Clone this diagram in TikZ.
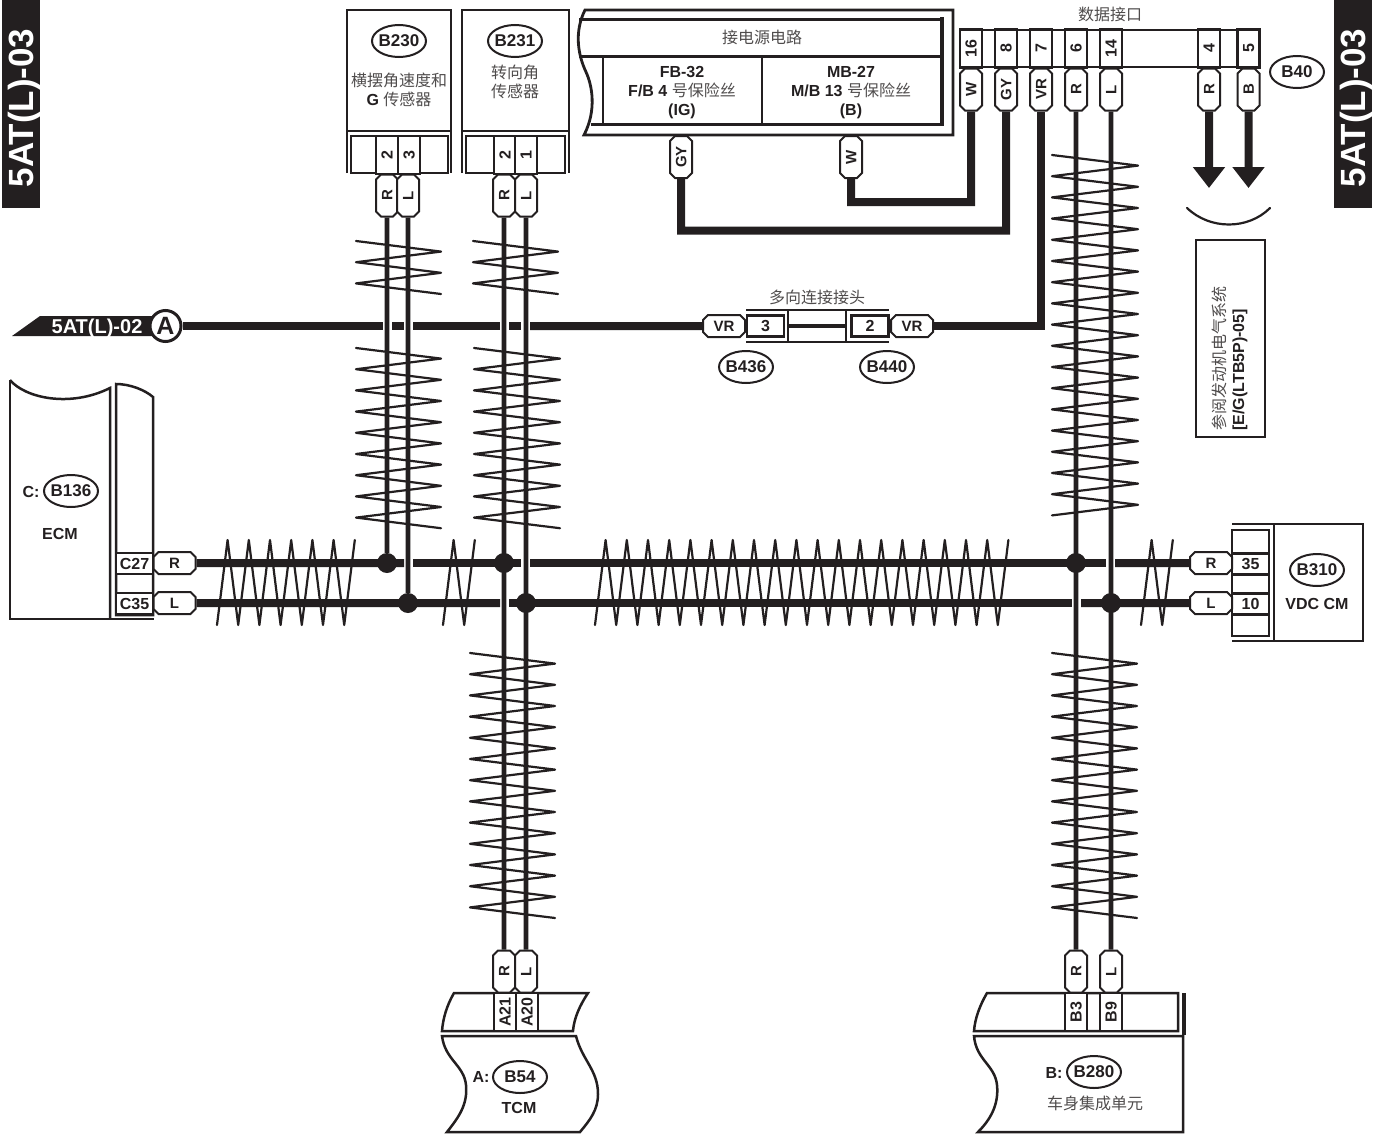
\documentclass[tikz,border=0pt]{standalone}
\usepackage{fontspec}
\setmainfont{Liberation Sans}
\newfontfamily\cjk{Noto Sans CJK SC}
\usetikzlibrary{arrows.meta,shapes.geometric,shapes.misc}
\definecolor{ink}{HTML}{231F20}
\newcommand{\cn}[1]{{\cjk\mdseries\color{ink!80} #1}}
\newcommand{\vtwist}[4]{\draw[twist] (#1, #3) \foreach \i [evaluate=\i as \yy using #3+\i*10.6, evaluate=\i as \xx using {isodd(\i) ? #2 : #1}] in {1,...,#4} { -- (\xx, \yy) };}
\newcommand{\htwist}[2]{\draw[twist] (#1, 625) \foreach \i [evaluate=\i as \xx using #1+\i*10.6, evaluate=\i as \yy using {isodd(\i) ? 540 : 625}] in {1,...,#2} { -- (\xx, \yy) };}
\tikzset{
  frame/.style={draw=ink, line width=2.5pt},
  heavy/.style={draw=ink, line width=3.5pt},
  twist/.style={draw=ink, line width=2.2pt, line cap=round, line join=round},
  wire/.style={draw=ink, line width=4.6pt},
  bus/.style={draw=ink, line width=8pt},
  label/.style={text=ink, inner sep=0pt, align=center, font=\bfseries\fontsize{16}{19}\selectfont},
  tag/.style={label, ellipse, draw=ink, line width=2pt, fill=white, inner xsep=-1.5pt, text depth=0pt, minimum width=54pt, minimum height=32pt, font=\bfseries\fontsize{17}{19}\selectfont},
  pinh/.style={label, chamfered rectangle, chamfered rectangle xsep=2.5pt, chamfered rectangle ysep=2.5pt, draw=ink, line width=2pt, fill=white, text width=37pt, text height=13.9pt, text depth=3.1pt, font=\bfseries\fontsize{15}{17}\selectfont},
  pinv/.style={pinh, rotate=90},
  cellh/.style={label, draw=ink, line width=2.5pt, fill=white, text depth=0pt, minimum width=37pt, minimum height=21pt, font=\bfseries\fontsize{16}{18}\selectfont},
  cellv/.style={cellh, rotate=90, minimum width=38pt, minimum height=22pt},
  tab/.style={label, rotate=90, fill=ink, text=white, text height=25.2pt, text depth=0pt, minimum height=38pt, minimum width=208pt, font=\bfseries\fontsize{35}{37}\selectfont},
  jct/.style={circle, fill=ink, inner sep=0pt, minimum size=20pt}
}
\begin{document}
\begin{tikzpicture}[x=1pt, y=-1pt]
  \useasboundingbox (0, 0) rectangle (1380, 1135);

  \node[tab] (tabLeft) at (20.5, 104) {5AT(L)-03\hspace{8pt}};
  \node[tab] (tabRight) at (1353, 104) {5AT(L)-03\hspace{8pt}};

  \draw[frame] (347, 173) -- (347, 10) -- (451, 10) -- (451, 173);
  \draw[frame] (347, 131) -- (451, 131);
  \draw[frame] (351, 136) rectangle (448, 173);
  \node[tag] (tagB230) at (399, 41) {B230};
  \node[label] (nameB230) at (399, 90) {\cn{横摆角速度和}\\G \cn{传感器}};
  \node[cellv] (cellB230a) at (387, 155) {2};
  \node[cellv] (cellB230b) at (409, 155) {3};
  \node[pinv] (pinB230R) at (387, 195.5) {R};
  \node[pinv] (pinB230L) at (408, 195.5) {L};

  \draw[frame] (462, 173) -- (462, 10) -- (569, 10) -- (569, 173);
  \draw[frame] (462, 131) -- (569, 131);
  \draw[frame] (466, 136) rectangle (565, 173);
  \node[tag] (tagB231) at (515, 41) {B231};
  \node[label] (nameB231) at (515, 82) {\cn{转向角}\\\cn{传感器}};
  \node[cellv] (cellB231a) at (505, 155) {2};
  \node[cellv] (cellB231b) at (526, 155) {1};
  \node[pinv] (pinB231R) at (504, 195.5) {R};
  \node[pinv] (pinB231L) at (526, 195.5) {L};

  \draw[frame, line width=2.8pt] (585, 10) .. controls (574, 32) and (578, 55) .. (586, 72) .. controls (592, 85) and (597, 110) .. (584, 135) -- (953, 135) -- (953, 10) -- cycle;
  \draw[heavy, line width=3pt] (579, 19) -- (942, 19);
  \draw[heavy, line width=3pt] (579, 56) -- (942, 56);
  \draw[heavy, line width=3pt] (591, 124) -- (942, 124);
  \draw[heavy] (942, 17) -- (942, 126);
  \draw[heavy, line width=2.6pt] (603, 56) -- (603, 124);
  \draw[heavy, line width=2.6pt] (762, 56) -- (762, 124);
  \node[label] (nameSupply) at (762, 37.5) {\cn{接电源电路}};
  \node[label] (nameFB32) at (682, 92.5) {FB-32\\F/B 4 \cn{号保险丝}\\(IG)};
  \node[label] (nameMB27) at (851, 92.5) {MB-27\\M/B 13 \cn{号保险丝}\\(B)};
  \node[pinv] (pinFuseGY) at (681, 157) {GY};
  \node[pinv] (pinFuseW) at (851, 157) {W};

  \node[label] (nameData) at (1110, 14.5) {\cn{数据接口}};
  \draw[frame] (960, 30) rectangle (1260, 67);
  \node[cellv] (cell16) at (971, 48.5) {16};
  \node[cellv] (cell8) at (1006, 48.5) {8};
  \node[cellv] (cell7) at (1041, 48.5) {7};
  \node[cellv] (cell6) at (1076, 48.5) {6};
  \node[cellv] (cell14) at (1111, 48.5) {14};
  \node[cellv] (cell4) at (1209, 48.5) {4};
  \node[cellv] (cell5) at (1248.5, 48.5) {5};
  \node[pinv] (pin16W) at (971, 89.5) {W};
  \node[pinv] (pin8GY) at (1006, 89.5) {GY};
  \node[pinv] (pin7VR) at (1041, 89.5) {VR};
  \node[pinv] (pin6R) at (1076, 89.5) {R};
  \node[pinv] (pin14L) at (1111, 89.5) {L};
  \node[pinv] (pin4R) at (1209, 89.5) {R};
  \node[pinv] (pin5B) at (1248.5, 89.5) {B};
  \node[tag] (tagB40) at (1297, 72) {B40};

  \coordinate (tipR) at (1209, 188);
  \coordinate (tipB) at (1248.5, 188);
  \draw[bus, -{Triangle[width=31pt, length=21pt]}] (pin4R) -- (tipR);
  \draw[bus, -{Triangle[width=31pt, length=21pt]}] (pin5B) -- (tipB);
  \draw[twist] (1187, 208) .. controls (1210, 230) and (1248, 230) .. (1270, 208);
  \draw[frame, line width=2.6pt] (1196, 240) rectangle (1265, 437);
  \node[label, rotate=90, align=left] (nameEngine) at (1229.5, 358.5) {\cn{参阅发动机电气系统}\\{[E/G(LTB5P)-05]}};

  \fill[ink] (12, 336) -- (40, 316) -- (160, 316) -- (160, 336) -- cycle;
  \node[label, text=white, text depth=0pt, font=\bfseries\fontsize{20}{22}\selectfont] (nameFlag) at (97, 326) {5AT(L)-02};
  \node[circle, draw=ink, line width=3pt, fill=white, inner sep=0pt, minimum size=31pt, text=ink, font=\bfseries\fontsize{25}{27}\selectfont] (tagA) at (165.5, 326) {A};

  \draw[frame] (788, 310) -- (788, 342);
  \draw[frame] (846, 310) -- (846, 342);
  \draw[frame] (746, 310) -- (889, 310);
  \draw[frame] (746, 342) -- (889, 342);
  \draw[heavy] (788, 326) -- (846, 326);
  \node[label] (nameMulti) at (817, 297.5) {\cn{多向连接接头}};
  \node[pinh] (pinVR436) at (724, 326) {VR};
  \node[cellh] (cell3) at (765.5, 326) {3};
  \node[cellh] (cell2) at (870, 326) {2};
  \node[pinh] (pinVR440) at (912, 326) {VR};
  \node[tag] (tagB436) at (746, 367) {B436};
  \node[tag] (tagB440) at (887, 367) {B440};

  \draw[frame] (10, 380) .. controls (25, 398) and (70, 408) .. (110, 388) -- (110, 619);
  \draw[frame] (10, 380) -- (10, 619) -- (154, 619);
  \draw[frame] (116, 384) .. controls (130, 384) and (145, 390) .. (153, 397) -- (153, 615) -- (116, 615) -- cycle;
  \node[tag] (tagB136) at (71, 491) {B136};
  \node[label] (nameC) at (31, 491.5) {C:};
  \node[label] (nameECM) at (60, 534) {ECM};
  \node[cellh] (cellC27) at (134.5, 563.5) {C27};
  \node[cellh] (cellC35) at (134.5, 603.5) {C35};
  \node[pinh] (pinC27R) at (174.5, 563) {R};
  \node[pinh] (pinC35L) at (174.5, 603) {L};

  \draw[frame] (1232, 524) -- (1363, 524) -- (1363, 641) -- (1232, 641);
  \draw[frame] (1274, 524) -- (1274, 641);
  \draw[frame] (1232, 530) rectangle (1269, 636);
  \node[cellh] (cell35) at (1250.5, 564) {35};
  \node[cellh] (cell10) at (1250.5, 604) {10};
  \node[pinh] (pinVDCR) at (1211, 563) {R};
  \node[pinh] (pinVDCL) at (1211, 603) {L};
  \node[tag] (tagB310) at (1317, 570) {B310};
  \node[label] (nameVDC) at (1317, 604) {VDC CM};

  \draw[frame] (454, 993) -- (588, 993) .. controls (580, 1005) and (574, 1018) .. (573, 1031) -- (442, 1031) .. controls (443, 1018) and (447, 1005) .. (454, 993) -- cycle;
  \draw[frame] (442, 1036) -- (576, 1036) .. controls (582, 1060) and (598, 1070) .. (598, 1094) .. controls (598, 1110) and (590, 1120) .. (580, 1132) -- (447, 1132) .. controls (458, 1118) and (468, 1105) .. (466, 1085) .. controls (464, 1065) and (445, 1060) .. (442, 1036) -- cycle;
  \node[cellv] (cellA21) at (505, 1012) {A21};
  \node[cellv] (cellA20) at (527, 1012) {A20};
  \node[pinv] (pinTCMR) at (504, 971.5) {R};
  \node[pinv] (pinTCML) at (526, 971.5) {L};
  \node[tag] (tagB54) at (520, 1077) {B54};
  \node[label] (nameA) at (481, 1077) {A:};
  \node[label] (nameTCM) at (519, 1108) {TCM};

  \draw[frame] (987, 993) -- (1178, 993) -- (1178, 1031) -- (974, 1031) .. controls (975, 1018) and (980, 1005) .. (987, 993) -- cycle;
  \draw[heavy] (1184, 993) -- (1184, 1035);
  \draw[frame] (974, 1036) -- (1183, 1036) -- (1183, 1132) -- (978, 1132) .. controls (990, 1120) and (999, 1105) .. (997, 1085) .. controls (995, 1065) and (976, 1060) .. (974, 1036) -- cycle;
  \node[cellv] (cellB3) at (1076, 1012) {B3};
  \node[cellv] (cellB9) at (1111, 1012) {B9};
  \node[pinv] (pinBCMR) at (1076, 971.5) {R};
  \node[pinv] (pinBCML) at (1111, 971.5) {L};
  \node[tag] (tagB280) at (1094, 1072) {B280};
  \node[label] (nameB) at (1054, 1073) {B:};
  \node[label] (nameBCM) at (1095, 1103.5) {\cn{车身集成单元}};

  \node[jct] (jctR1) at (387, 563) {};
  \node[jct] (jctL1) at (408, 603) {};
  \node[jct] (jctR2) at (504, 563) {};
  \node[jct] (jctL2) at (526, 603) {};
  \node[jct] (jctR3) at (1076, 563) {};
  \node[jct] (jctL3) at (1111, 603) {};

  \foreach \name/\x/\y in {gapA1a/383/326, gapA1b/392/326, gapA2a/404/326, gapA2b/413/326, gapA3a/500/326, gapA3b/509/326, gapA4a/521/326, gapA4b/530/326, gapR1a/404/563, gapR1b/413/563, gapR2a/521/563, gapR2b/530/563, gapR3a/1106/563, gapR3b/1115/563, gapL1a/500/603, gapL1b/509/603, gapL2a/1072/603, gapL2b/1081/603, cornerW/851/202, cornerGY/681/230.5}
    \coordinate (\name) at (\x, \y);

  \draw[wire] (pinB230R) -- (jctR1);
  \draw[wire] (pinB230L) -- (jctL1);
  \draw[wire] (pinB231R) -- (pinTCMR);
  \draw[wire] (pinB231L) -- (pinTCML);
  \draw[wire] (pin6R) -- (pinBCMR);
  \draw[wire] (pin14L) -- (pinBCML);

  \draw[bus] (tagA) -- (gapA1a);
  \draw[bus] (gapA1b) -- (gapA2a);
  \draw[bus] (gapA2b) -- (gapA3a);
  \draw[bus] (gapA3b) -- (gapA4a);
  \draw[bus] (gapA4b) -- (pinVR436);
  \draw[bus] (pinVR440) -| (pin7VR);
  \draw[bus] (pinFuseW) -- (cornerW) -| (pin16W);
  \draw[bus] (pinFuseGY) -- (cornerGY) -| (pin8GY);

  \draw[bus] (pinC27R) -- (gapR1a);
  \draw[bus] (gapR1b) -- (gapR2a);
  \draw[bus] (gapR2b) -- (gapR3a);
  \draw[bus] (gapR3b) -- (pinVDCR);
  \draw[bus] (pinC35L) -- (gapL1a);
  \draw[bus] (gapL1b) -- (gapL2a);
  \draw[bus] (gapL2b) -- (pinVDCL);

  \vtwist{356}{441}{241}{5}
  \vtwist{356}{441}{348}{17}
  \vtwist{473}{558}{241}{5}
  \vtwist{474}{560}{348}{17}
  \vtwist{470}{555}{653}{25}
  \vtwist{1052}{1138}{155}{34}
  \vtwist{1052}{1137}{653}{25}
  \htwist{217}{13}
  \htwist{443}{3}
  \htwist{595}{39}
  \htwist{1141}{3}
\end{tikzpicture}
\end{document}
